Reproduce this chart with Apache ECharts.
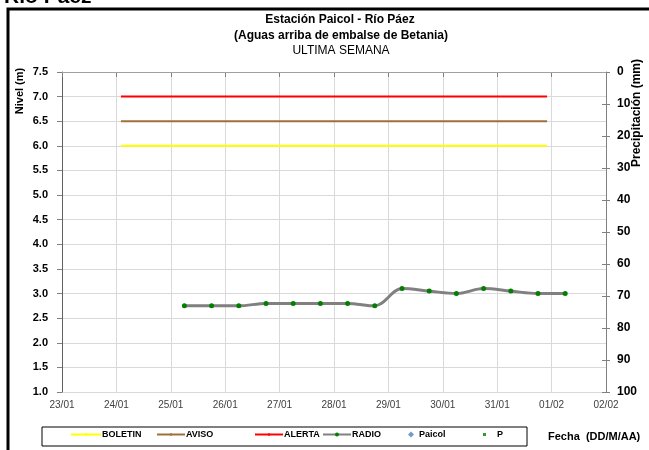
<!DOCTYPE html>
<html>
<head>
<meta charset="utf-8">
<script src="https://cdn.jsdelivr.net/npm/echarts@6/dist/echarts.min.js"></script>
<style>html,body{margin:0;padding:0;background:#fff}#c{width:649px;height:450px}</style>
</head>
<body>
<div id="c"></div>
<script>
// ---- data ----
var titleLines = ['Estación Paicol - Río Páez', '(Aguas arriba de embalse de Betania)', 'ULTIMA SEMANA'];
var pageHeading = 'Río Páez';
var radioTimes = ['2012-01-25 06:00','2012-01-25 18:00','2012-01-26 06:00','2012-01-26 18:00','2012-01-27 06:00','2012-01-27 18:00','2012-01-28 06:00','2012-01-28 18:00','2012-01-29 06:00','2012-01-29 18:00','2012-01-30 06:00','2012-01-30 18:00','2012-01-31 06:00','2012-01-31 18:00','2012-02-01 06:00'];
var radioValues = [2.75, 2.75, 2.75, 2.8, 2.8, 2.8, 2.8, 2.75, 3.1, 3.05, 3.0, 3.1, 3.05, 3.0, 3.0];
var thresholdTimes = ['2012-01-24 02:00', '2012-01-31 22:00'];
var boletinLevel = 6.0;
var avisoLevel = 6.5;
var alertaLevel = 7.0;
var xMin = '2012-01-23 00:00', xMax = '2012-02-02 00:00';
var levelAxis = {min: 1.0, max: 7.5, step: 0.5};
var rainAxis = {min: 0, max: 100, step: 10};

var DAY = 86400000;
function t(s){ var p=s.split(/[- :]/); return Date.UTC(+p[0], +p[1]-1, +p[2], +p[3], +p[4]); }
function pad(n){ return (n<10?'0':'')+n; }

var F = 'Liberation Sans, Arial, sans-serif';
var chart = echarts.init(document.getElementById('c'), null, {renderer:'canvas'});

var legendPos = [
  {name:'BOLETIN', left:70, w:30, h:3, pl:-4},
  {name:'AVISO', left:156, w:28, h:3, pl:-4},
  {name:'ALERTA', left:254, w:28, h:3, pl:-4},
  {name:'RADIO', left:322, w:28, h:5, pl:-4},
  {name:'Paicol', left:408, w:6, h:6, pl:0},
  {name:'P', left:483, w:3, h:3, pl:6}
];

var option = {
  animation:false,
  backgroundColor:'#fff',
  textStyle:{fontFamily:F},
  grid:{left:62, right:43, top:72, bottom:58, containLabel:false},
  xAxis:{
    type:'value', min:t(xMin), max:t(xMax), interval:DAY,
    axisLine:{lineStyle:{color:'#808080'}},
    axisTick:{show:true, length:5, lineStyle:{color:'#808080'}},
    axisLabel:{color:'#404040', fontSize:10, margin:8, showMinLabel:true, showMaxLabel:true, hideOverlap:false,
      formatter:function(v){ var d=new Date(v); return pad(d.getUTCDate())+'/'+pad(d.getUTCMonth()+1); }},
    splitLine:{show:true, lineStyle:{color:'#d9d9d9'}}
  },
  yAxis:[
    {type:'value', min:levelAxis.min, max:levelAxis.max, interval:levelAxis.step, position:'left',
     axisLine:{show:true, lineStyle:{color:'#606060'}},
     axisTick:{show:true, length:5, lineStyle:{color:'#808080'}},
     axisLabel:{color:'#000', fontWeight:'bold', fontSize:11, margin:14, formatter:function(v){return v.toFixed(1);}},
     splitLine:{show:true, lineStyle:{color:'#d9d9d9'}}},
    {type:'value', min:rainAxis.min, max:rainAxis.max, interval:rainAxis.step, position:'right', inverse:true,
     axisLine:{show:true, lineStyle:{color:'#808080'}},
     axisTick:{show:true, inside:false, length:4, lineStyle:{color:'#808080'}},
     axisLabel:{color:'#000', fontWeight:'bold', fontSize:12, margin:11},
     splitLine:{show:false}},
    {type:'value', min:rainAxis.min, max:rainAxis.max, interval:rainAxis.step, position:'right', inverse:true,
     axisLine:{show:false},
     axisTick:{show:true, inside:true, length:4, lineStyle:{color:'#808080'}},
     axisLabel:{show:false},
     splitLine:{show:false}}
  ],
  legend: legendPos.map(function(l){
    return {data:[l.name], left:l.left, top:430, itemWidth:l.w, itemHeight:l.h, itemGap:0, padding:0,
      textStyle:{fontSize:9, fontWeight:'bold', color:'#000', padding:[0,0,0,l.pl]}};
  }),
  series:[
    {name:'BOLETIN', type:'line', symbol:'none', yAxisIndex:0, lineStyle:{color:'#ffff00', width:2}, itemStyle:{color:'#ffff00'},
     data:thresholdTimes.map(function(s){return [t(s), boletinLevel];})},
    {name:'AVISO', type:'line', symbol:'none', yAxisIndex:0, lineStyle:{color:'#a0703a', width:2}, itemStyle:{color:'#a0703a'},
     data:thresholdTimes.map(function(s){return [t(s), avisoLevel];})},
    {name:'ALERTA', type:'line', symbol:'none', yAxisIndex:0, lineStyle:{color:'#ff0000', width:2}, itemStyle:{color:'#ff0000'},
     data:thresholdTimes.map(function(s){return [t(s), alertaLevel];})},
    {name:'RADIO', type:'line', smooth:0.35, yAxisIndex:0, symbol:'circle', symbolSize:5, showAllSymbol:true,
     lineStyle:{color:'#808080', width:3}, itemStyle:{color:'#008000', borderWidth:0},
     data:radioTimes.map(function(s,i){return [t(s), radioValues[i]];})},
    {name:'Paicol', type:'scatter', symbol:'diamond', symbolSize:6, yAxisIndex:0, itemStyle:{color:'#4f81bd'}, data:[]},
    {name:'P', type:'scatter', symbol:'rect', symbolSize:3, yAxisIndex:1, itemStyle:{color:'#008000'}, data:[]}
  ],
  graphic:[
    {type:'text', left:4, top:-13, style:{text:pageHeading, font:'bold 21px '+F, fill:'#000'}},
    {type:'rect', shape:{x:8, y:9, width:700, height:500}, style:{fill:'none', stroke:'#000', lineWidth:3}, z:-1},
    {type:'line', shape:{x1:62, y1:72.5, x2:606, y2:72.5}, style:{stroke:'#a0a0a0', lineWidth:1}, z:5},
    {type:'text', x:340, y:20, style:{text:titleLines[0], font:'bold 12px '+F, fill:'#000', align:'center', verticalAlign:'middle'}},
    {type:'text', x:341, y:36, style:{text:titleLines[1], font:'bold 12px '+F, fill:'#000', align:'center', verticalAlign:'middle'}},
    {type:'text', x:341, y:51, style:{text:titleLines[2], font:'12px '+F, fill:'#000', align:'center', verticalAlign:'middle'}},
    {type:'text', x:20, y:91, rotation:Math.PI/2, style:{text:'Nivel (m)', font:'bold 11px '+F, fill:'#000', align:'center', verticalAlign:'middle'}},
    {type:'text', x:637, y:113, rotation:Math.PI/2, style:{text:'Precipitación (mm)', font:'bold 12px '+F, fill:'#000', align:'center', verticalAlign:'middle'}},
    {type:'rect', shape:{x:42, y:427, width:485, height:19}, style:{fill:'none', stroke:'#000', lineWidth:1}},
    {type:'text', x:548, y:437, style:{text:'Fecha  (DD/M/AA)', font:'bold 11px '+F, fill:'#000', verticalAlign:'middle'}}
  ]
};
chart.setOption(option);
</script>
</body>
</html>
